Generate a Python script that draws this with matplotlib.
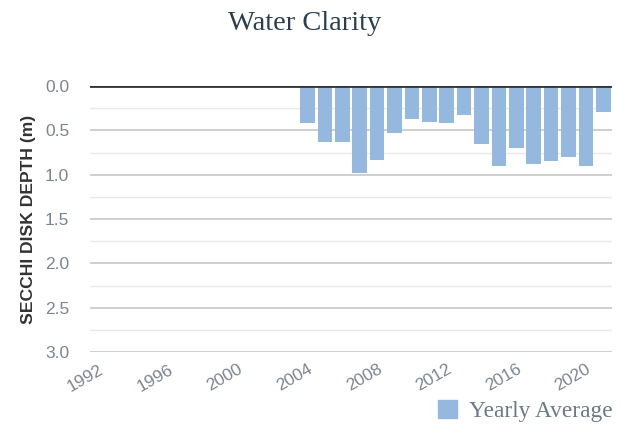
import matplotlib
matplotlib.use('Agg')
import matplotlib.pyplot as plt
import matplotlib.patches as mpatches

years = list(range(1992, 2022))
data_years = list(range(2004, 2022))
depth = [0.42, 0.63, 0.63, 0.98, 0.83, 0.53, 0.37, 0.41, 0.42, 0.33,
         0.65, 0.90, 0.70, 0.88, 0.85, 0.80, 0.90, 0.29]
tick_years = [1992, 1996, 2000, 2004, 2008, 2012, 2016, 2020]

bar_color = '#95b9de'

fig = plt.figure(figsize=(6.21, 4.26), dpi=100)
ax = fig.add_axes([90/621, 1-352/426, (612-90)/621, (352-86)/426])

x = [y - years[0] for y in data_years]
ax.bar(x, depth, width=0.84, color=bar_color, zorder=3)

ax.set_xlim(-0.5, len(years) - 0.5)
ax.set_ylim(3.0, 0.0)

# grid lines
for v in [0.25, 0.75, 1.25, 1.75, 2.25, 2.75]:
    ax.axhline(v, color='#e8e8e8', lw=1, zorder=1)
for v in [0.5, 1.0, 1.5, 2.0, 2.5, 3.0]:
    ax.axhline(v, color='#cccccc', lw=1.3, zorder=1)
ax.axhline(0.0, color='#333333', lw=2, zorder=4)

for s in ax.spines.values():
    s.set_visible(False)

ax.set_yticks([0, 0.5, 1.0, 1.5, 2.0, 2.5, 3.0])
ax.set_yticklabels(['0.0', '0.5', '1.0', '1.5', '2.0', '2.5', '3.0'],
                   fontsize=12.5, color='#7b8591', family='Liberation Sans')
ax.tick_params(axis='y', length=0, pad=15)

ax.set_xticks([t - years[0] for t in tick_years])
ax.set_xticklabels([str(t) for t in tick_years], rotation=30, ha='right',
                   rotation_mode='anchor', fontsize=12.5, color='#7b8591',
                   family='Liberation Sans')
ax.tick_params(axis='x', length=0, pad=7)

ax.set_ylabel('SECCHI DISK DEPTH (m)', fontsize=12.6, fontweight='bold',
              color='#333333', family='Liberation Sans', labelpad=6)

fig.text(305/621, 1-24/426, 'Water Clarity', ha='center', va='center',
         fontsize=20.5, color='#2b3e50', family='Liberation Serif')

handle = mpatches.Patch(color=bar_color, label='Yearly Average')
fig.legend(handles=[handle], loc='center right', bbox_to_anchor=(613/621, 1-411/426),
           frameon=False, borderpad=0, borderaxespad=0,
           handlelength=0.78, handleheight=0.78, handletextpad=0.55,
           prop={'family': 'Liberation Serif', 'size': 16.8}, labelcolor='#6c7a89')

plt.savefig('out.png', dpi=100)
